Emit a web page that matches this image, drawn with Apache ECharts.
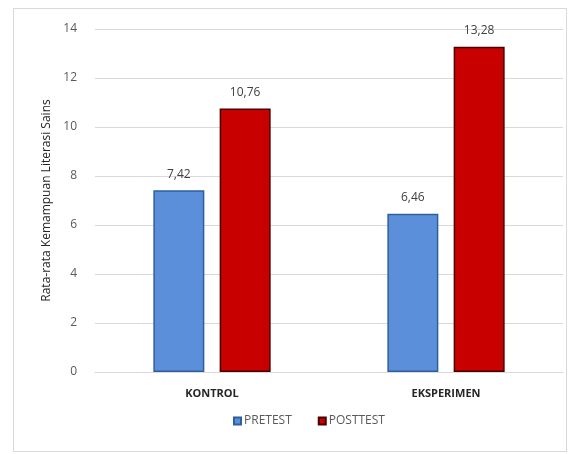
<!DOCTYPE html>
<html>
<head>
<meta charset="utf-8">
<script src="https://cdn.jsdelivr.net/npm/echarts@6/dist/echarts.min.js"></script>
<style>
  html, body { margin: 0; padding: 0; background: #fff; }
  #frame { position: absolute; left: 13px; top: 8px; width: 554px; height: 444px; border: 1px solid #d9d9d9; box-sizing: border-box; }
  #chart { width: 581px; height: 454px; }
</style>
</head>
<body>
<div id="frame"></div>
<div id="chart"></div>
<script>
var categories = ['KONTROL', 'EKSPERIMEN']
var pretest = [7.42, 6.46]
var posttest = [10.76, 13.28]
var yTicks = [0, 2, 4, 6, 8, 10, 12, 14]

var myChart = echarts.init(document.getElementById('chart'))

function fmt(v) {
    return String(v.toFixed(2)).replace('.', ',')
}

var option = {
    animation: false,
    textStyle: {fontFamily: 'Open Sans'},
    grid: {left: 95, right: 18, top: 29, bottom: 82},
    legend: {
        bottom: 22,
        left: 228,
        itemWidth: 7,
        itemHeight: 7,
        itemGap: 26,
        icon: 'rect',
        textStyle: {color: '#595959', fontSize: 12, padding: [0, 0, 0, -2]}
    },
    xAxis: {
        type: 'category',
        data: categories,
        axisLine: {lineStyle: {color: '#d9d9d9'}},
        axisTick: {show: false},
        axisLabel: {color: '#262626', fontSize: 11, fontWeight: 'bold', margin: 16}
    },
    yAxis: {
        type: 'value',
        min: yTicks[0],
        max: yTicks[yTicks.length - 1],
        interval: 2,
        name: 'Rata-rata Kemampuan Literasi Sains',
        nameLocation: 'middle',
        nameGap: 40,
        nameTextStyle: {color: '#262626', fontSize: 12},
        axisLine: {show: false},
        axisTick: {show: false},
        axisLabel: {color: '#595959', fontSize: 12, margin: 18},
        splitLine: {lineStyle: {color: '#d9d9d9'}}
    },
    series: [
        {
            name: 'PRETEST',
            type: 'bar',
            data: pretest,
            barWidth: 51,
            barGap: '30%',
            itemStyle: {color: '#5b8fd9', borderColor: '#2e5f9e', borderWidth: 1.5},
            label: {show: true, position: 'top', distance: 10, color: '#404040', fontSize: 12,
                formatter: function (p) { return fmt(p.value) }}
        },
        {
            name: 'POSTTEST',
            type: 'bar',
            data: posttest,
            barWidth: 51,
            itemStyle: {color: '#c80000', borderColor: '#4a0000', borderWidth: 1.5},
            label: {show: true, position: 'top', distance: 10, color: '#404040', fontSize: 12,
                formatter: function (p) { return fmt(p.value) }}
        }
    ]
}

myChart.setOption(option)
</script>
</body>
</html>
